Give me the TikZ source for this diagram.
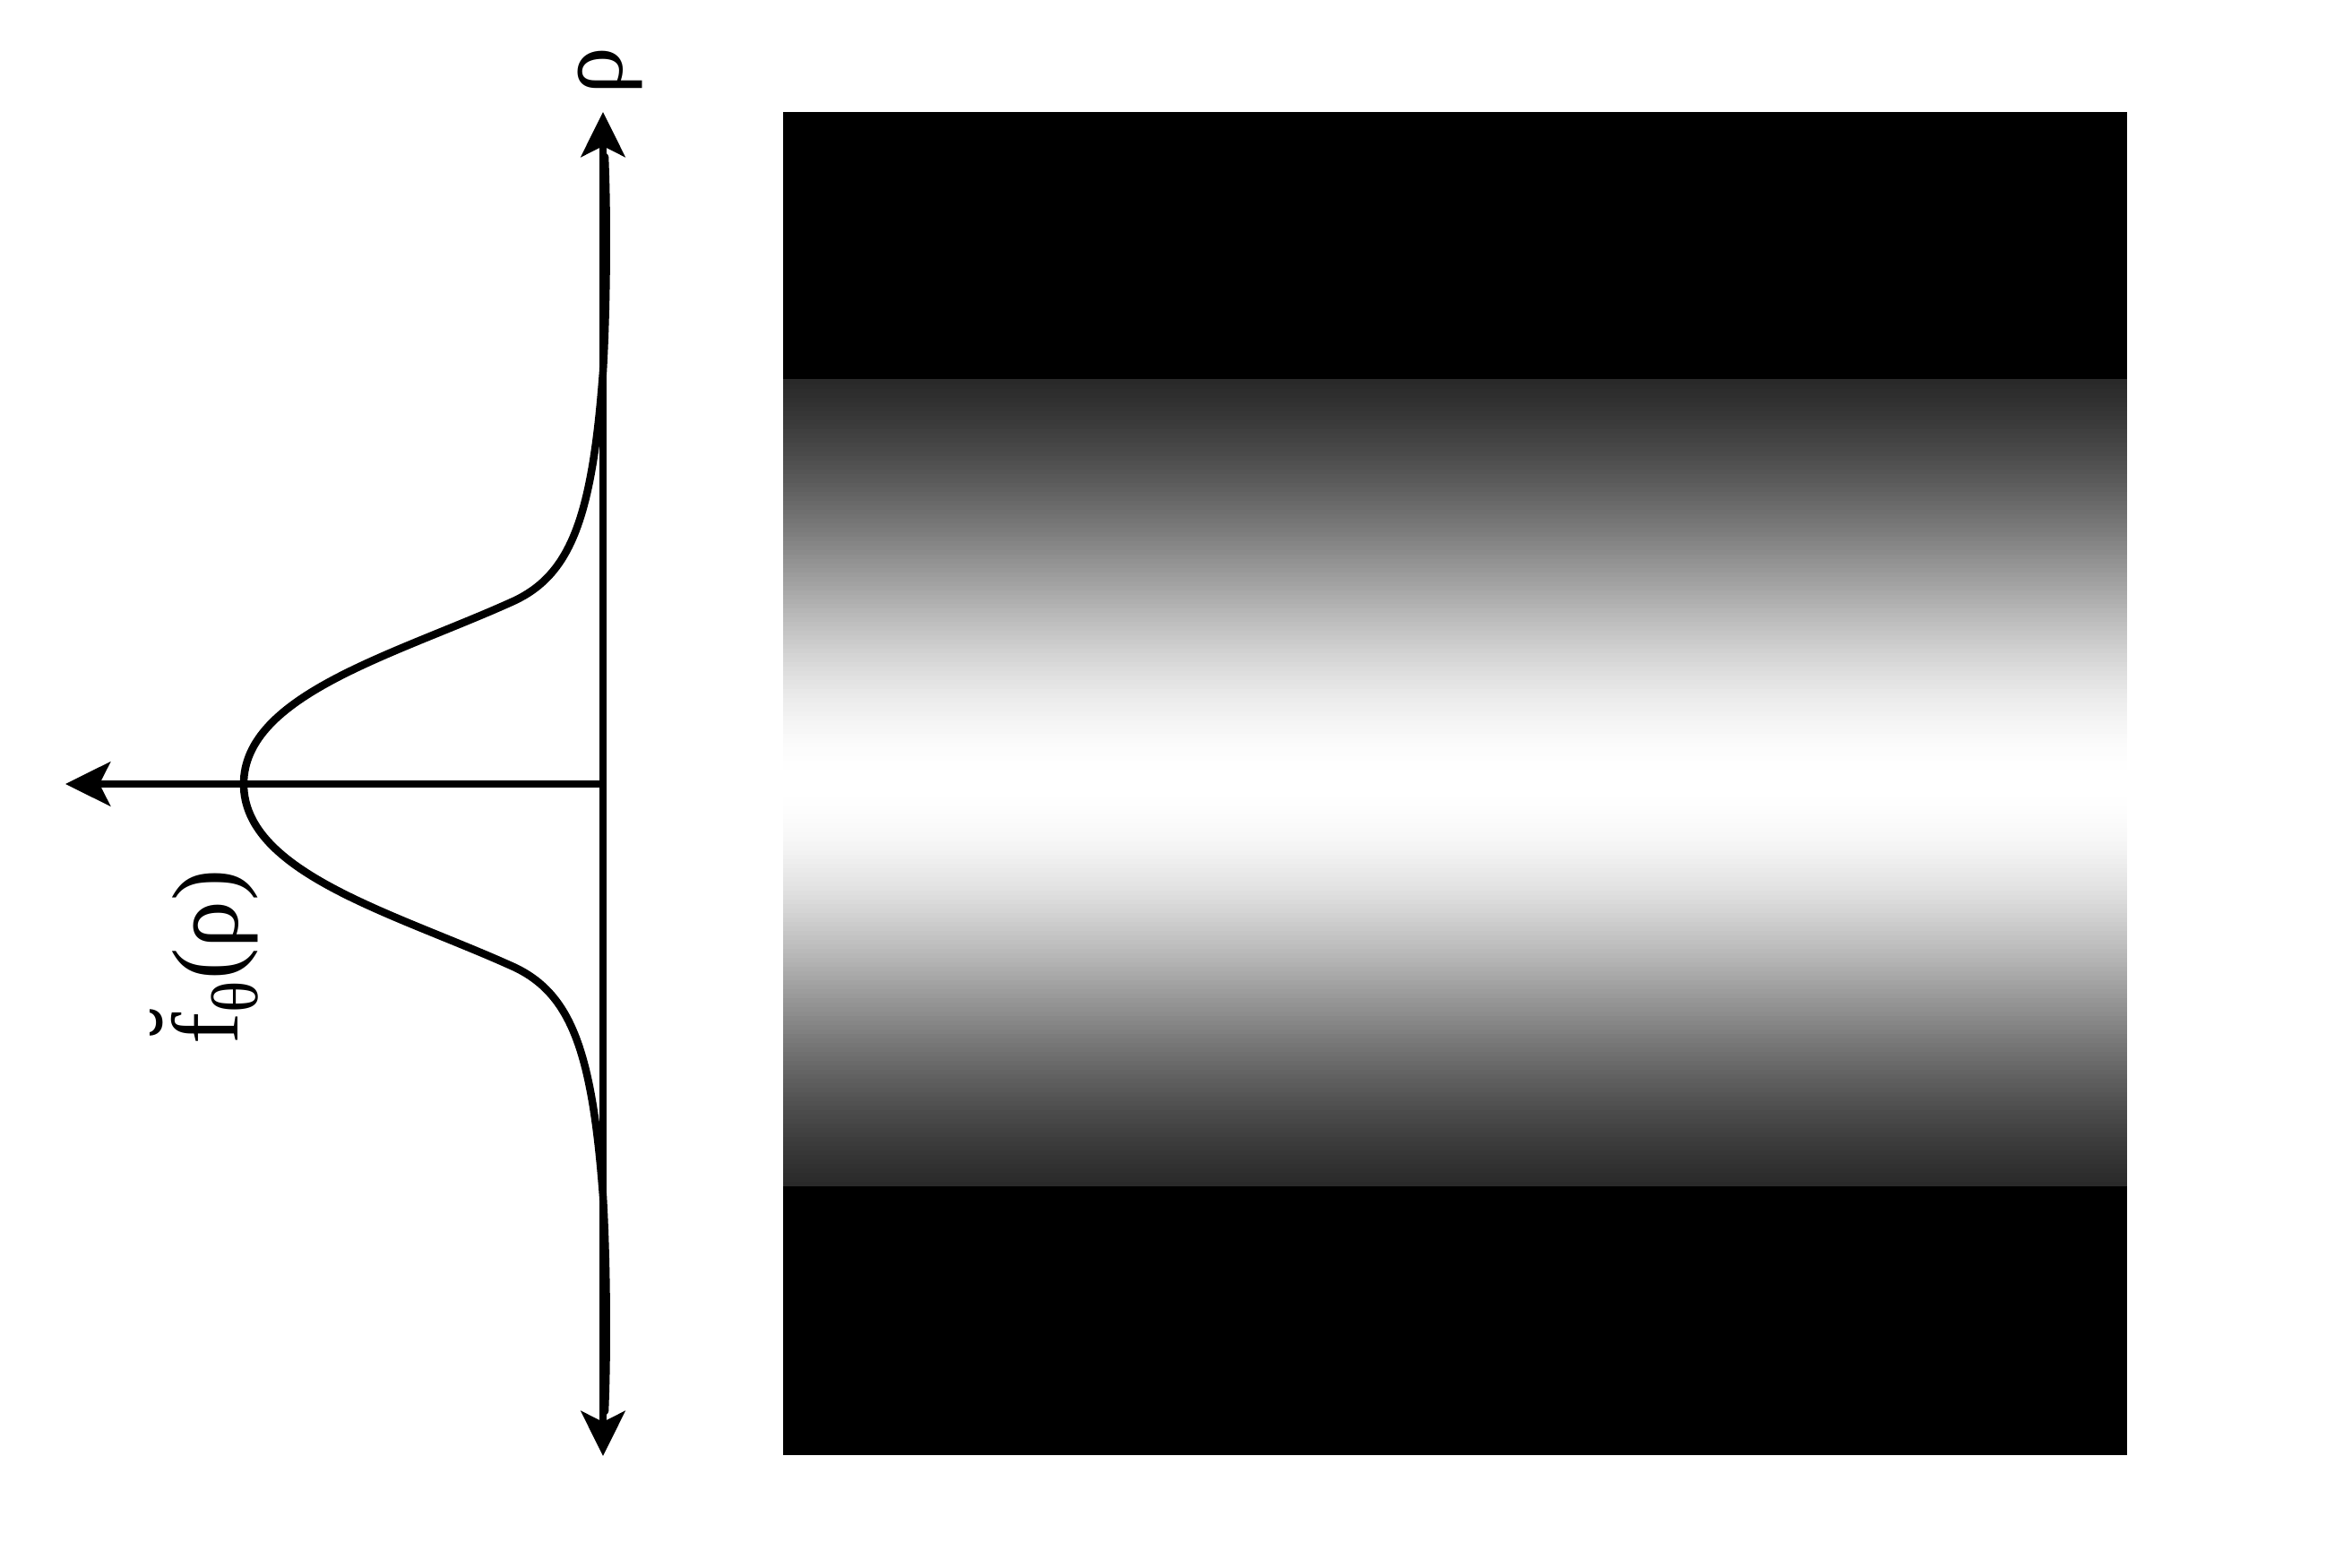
\documentclass[tikz,border=0pt]{standalone}
\usepackage{amsmath,amssymb}
\usepackage{fontspec}
\setmainfont{Liberation Serif}
\usepackage{tikz}
\usetikzlibrary{arrows.meta}

\begin{document}
\begin{tikzpicture}[every node/.style={font=\fontsize{30}{36}\selectfont}, >={Stealth[length=5mm, width=4.9mm, inset=1.2mm]},
	axis/.style={line width=0.085cm},
	lbl/.style={rotate=90, inner sep=0pt}]
	\useasboundingbox (-6.73,-8.75) rectangle (19.52,8.75);
	% projection image: black bands, gaussian band in the middle
	\fill[black] (2.01,-7.49) rectangle (17.01,7.5);
	\foreach \k in {0,...,179} {
		\pgfmathsetmacro{\ylo}{-4.49+0.05*\k}
		\pgfmathsetmacro{\lvl}{min(99.9,100*exp(-((\ylo+0.025)*(\ylo+0.025))/(2*2.35*2.35)))}
		\fill[white!\lvl!black] (2.01,\ylo) rectangle (17.01,\ylo+0.06);
	}
	% axes
	\coordinate (O) at (0,0);
	\coordinate (rhotop) at (0,7.5);
	\coordinate (rhobot) at (0,-7.5);
	\coordinate (fend) at (-6,0);
	\draw[axis, <->] (rhobot) -- (rhotop);
	\draw[axis, ->] (O) -- (fend);
	% profile, upper and lower half
	\foreach \s in {1,-1}
		\draw[axis, line cap=round, yscale=\s] (-4.01,0) .. controls (-4.01,1.0) and (-2.3,1.45) .. (-1.0,2.04)
			.. controls (-0.35,2.34) and (-0.12,3.0) .. (0,4.6)
			.. controls (0.04,5.3) and (0.05,6.3) .. (0.02,7.0);
	\node[lbl] (rholbl) at (0.08,7.96) {ρ};
	\node[lbl] (flbl) at (-4.45,-1.93) {$\text{\u{f}}_{\text{θ}}$(ρ)};
\end{tikzpicture}
\end{document}
